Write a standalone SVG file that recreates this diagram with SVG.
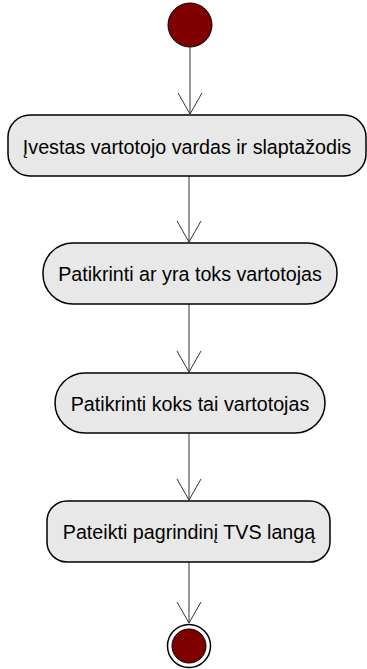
<svg xmlns="http://www.w3.org/2000/svg" width="367" height="669" viewBox="0 0 367 669">
  <style>
    .act { fill: #e8e8e8; stroke: #000; stroke-width: 1.5; }
    .lbl { font-family: "Liberation Sans", Arial, sans-serif; font-size: 19.7px; fill: #000; text-anchor: middle; dominant-baseline: central; }
    .flow { fill: none; stroke: #555; stroke-width: 1.2; }
    .head { fill: none; stroke: #333; stroke-width: 1; }
  </style>
  <rect width="367" height="669" fill="#fff"/>

  <g id="connectors">
    <line class="flow" x1="190" y1="47" x2="190" y2="114"/>
    <polyline class="head" points="178,93 190,114 202,93"/>
    <line class="flow" x1="189" y1="176" x2="189" y2="242"/>
    <polyline class="head" points="177,221 189,242 201,221"/>
    <line class="flow" x1="189" y1="304" x2="189" y2="372"/>
    <polyline class="head" points="177,351 189,372 201,351"/>
    <line class="flow" x1="189" y1="433" x2="189" y2="500"/>
    <polyline class="head" points="177,479 189,500 201,479"/>
    <line class="flow" x1="189" y1="562" x2="189" y2="623"/>
    <polyline class="head" points="177,602 189,623 201,602"/>
  </g>

  <g id="start">
    <circle cx="190" cy="25" r="22" fill="#800000" stroke="#000" stroke-width="1"/>
  </g>

  <g id="enter-credentials">
    <rect class="act" x="8" y="115" width="358" height="61" rx="22"/>
    <text class="lbl" x="187" y="147">Įvestas vartotojo vardas ir slaptažodis</text>
  </g>

  <g id="check-user-exists">
    <rect class="act" x="43" y="243" width="294" height="61" rx="30"/>
    <text class="lbl" x="190" y="274">Patikrinti ar yra toks vartotojas</text>
  </g>

  <g id="check-user-type">
    <rect class="act" x="55" y="373" width="270" height="60" rx="30"/>
    <text class="lbl" x="190" y="404">Patikrinti koks tai vartotojas</text>
  </g>

  <g id="show-main-window">
    <rect class="act" x="47" y="501" width="283" height="61" rx="20"/>
    <text class="lbl" x="189" y="532">Pateikti pagrindinį TVS langą</text>
  </g>

  <g id="end">
    <circle cx="189" cy="646" r="21.5" fill="#fff" stroke="#000" stroke-width="1.5"/>
    <circle cx="189" cy="646" r="17" fill="#800000" stroke="#000" stroke-width="1"/>
  </g>
</svg>
